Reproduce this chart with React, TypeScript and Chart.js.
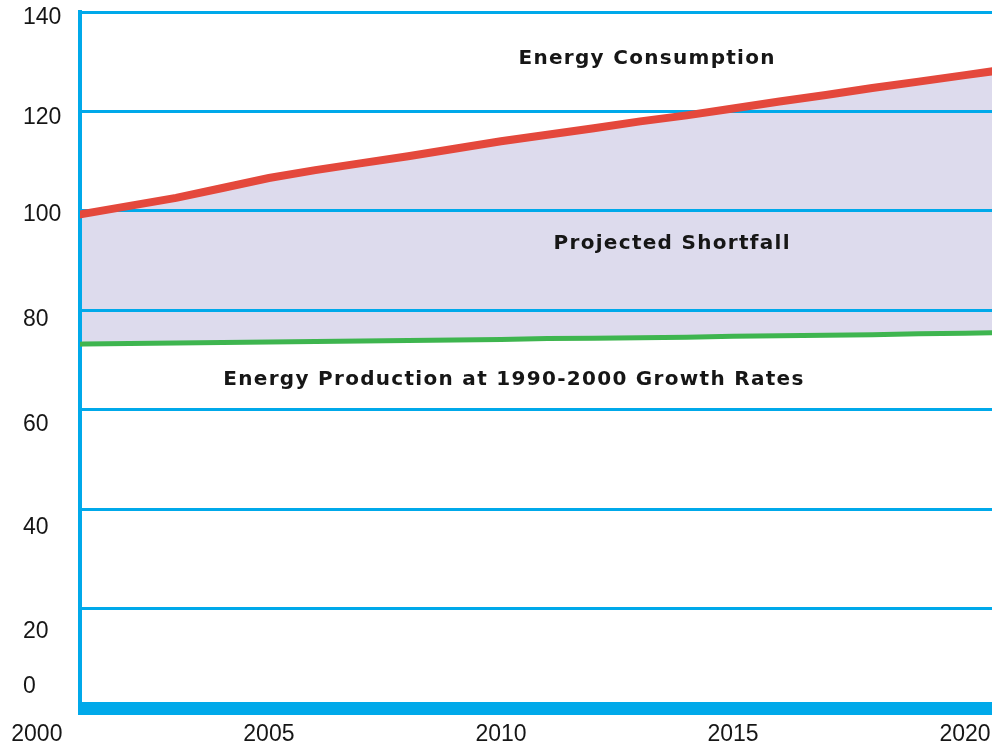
import React, { useEffect, useRef } from 'react';
import { Chart, registerables } from 'chart.js';

Chart.register(...registerables);

// ---- data ----
const years = [2000, 2001, 2002, 2003, 2004, 2005, 2006, 2007, 2008, 2009, 2010, 2011, 2012, 2013, 2014, 2015, 2016, 2017, 2018, 2019, 2020, 2021];
const consumption = [97.6, 99.4, 101.0, 102.6, 104.6, 106.6, 108.2, 109.6, 111.0, 112.5, 114.0, 115.3, 116.6, 118.0, 119.2, 120.6, 122.0, 123.3, 124.7, 126.0, 127.3, 128.6];
const production = [73.1, 73.2, 73.3, 73.4, 73.5, 73.6, 73.7, 73.8, 73.9, 74.0, 74.1, 74.3, 74.4, 74.5, 74.6, 74.8, 74.9, 75.0, 75.1, 75.3, 75.4, 75.5];
const xTickYears = [2000, 2005, 2010, 2015, 2020];
const yTickLabels = ['0', '20', '40', '60', '80', '100', '120', '140'];
const annotationTexts = ['Energy Consumption', 'Projected Shortfall', 'Energy Production at 1990-2000 Growth Rates'];

const BLUE = '#00A9EA';
const RED = '#E4483C';
const GREEN = '#3EB54F';
const LAVENDER = '#DDDBED';
const TEXT = '#161616';
const FONT_FAMILY = '"Liberation Sans", Arial, Helvetica, sans-serif';
const ANNOT_FAMILY = '"DejaVu Sans", "Liberation Sans", Arial, sans-serif';

export default function App() {
  const ref = useRef<HTMLCanvasElement>(null);

  useEffect(() => {
    const canvas = ref.current;
    if (!canvas) return;

    // where the annotation texts sit, in data coordinates
    const annotationSpots: [number, number][] = [
      [2013.15, 130.6],
      [2013.69, 93.3],
      [2010.28, 66.0],
    ];
    // vertical placement of the y tick labels (as in the reference artwork)
    const yLabelAt = [4.2, 15.3, 36.2, 56.9, 78.1, 99.2, 118.7, 138.8];

    const annotationPlugin = {
      id: 'annots',
      afterDatasetsDraw(chart: any) {
        const { ctx, scales } = chart;
        const x = scales.x;
        const y = scales.y;
        ctx.save();
        ctx.font = `bold 20px ${ANNOT_FAMILY}`;
        ctx.fillStyle = TEXT;
        ctx.textAlign = 'center';
        ctx.textBaseline = 'middle';
        (ctx as any).letterSpacing = '1.3px';
        annotationTexts.forEach((t, i) => {
          const [ax, ay] = annotationSpots[i];
          ctx.fillText(t, x.getPixelForValue(ax), y.getPixelForValue(ay));
        });
        ctx.restore();
      },
    };

    const tickFont = { family: FONT_FAMILY, size: 23 };

    const chart = new Chart(canvas, {
      type: 'line',
      data: {
        datasets: [
          {
            label: 'Energy Consumption',
            data: years.map((yr, i) => ({ x: yr, y: consumption[i] })),
            borderColor: RED,
            borderWidth: 8,
            pointRadius: 0,
            tension: 0,
            fill: '+1',
            backgroundColor: LAVENDER,
          },
          {
            label: 'Energy Production at 1990-2000 Growth Rates',
            data: years.map((yr, i) => ({ x: yr, y: production[i] })),
            borderColor: GREEN,
            borderWidth: 5,
            pointRadius: 0,
            tension: 0,
            fill: false,
          },
        ],
      },
      options: {
        responsive: false,
        animation: false,
        layout: { padding: { left: 23, top: 12, right: 0, bottom: 0 } },
        plugins: {
          legend: { display: false },
          tooltip: { enabled: false },
          filler: { drawTime: 'beforeDraw' },
        } as any,
        scales: {
          x: {
            type: 'linear',
            min: 2000.93,
            max: 2020.58,
            grid: { display: false, drawTicks: false },
            border: { display: false },
            afterBuildTicks: (s: any) => {
              s.ticks = xTickYears.map((v) => ({ value: v }));
            },
            afterFit: (s: any) => {
              s.height = 39;
              s.paddingLeft = 0;
              s.paddingRight = 0;
            },
            ticks: {
              autoSkip: false,
              maxRotation: 0,
              padding: 13,
              color: TEXT,
              font: tickFont,
              callback: (v: any) => String(v),
            },
          },
          y: {
            type: 'linear',
            position: 'left',
            weight: 0,
            min: 0,
            max: 140,
            ticks: { display: false, stepSize: 20 },
            grid: {
              color: BLUE,
              drawTicks: false,
              lineWidth: (c: any) => (c.tick && c.tick.value === 0 ? 13 : 3),
            },
            border: { display: true, color: BLUE, width: 4 },
            afterFit: (s: any) => {
              s.width = 0;
              s.paddingTop = 0;
              s.paddingBottom = 0;
            },
          },
          yl: {
            type: 'linear',
            position: 'left',
            weight: 1,
            min: 0,
            max: 140,
            grid: { display: false, drawTicks: false },
            border: { display: false },
            afterBuildTicks: (s: any) => {
              s.ticks = yLabelAt.map((v) => ({ value: v }));
            },
            afterFit: (s: any) => {
              s.width = 57;
              s.paddingTop = 0;
              s.paddingBottom = 0;
            },
            ticks: {
              autoSkip: false,
              crossAlign: 'far',
              padding: 0,
              color: TEXT,
              font: tickFont,
              callback: (_v: any, i: number) => yTickLabels[i],
            },
          },
        } as any,
      },
      plugins: [annotationPlugin],
    });

    return () => chart.destroy();
  }, []);

  return (
    <div style={{ position: 'fixed', top: 0, left: 0, width: 992, height: 747, background: '#fff' }}>
      <canvas ref={ref} width={992} height={747} style={{ display: 'block' }} />
    </div>
  );
}
